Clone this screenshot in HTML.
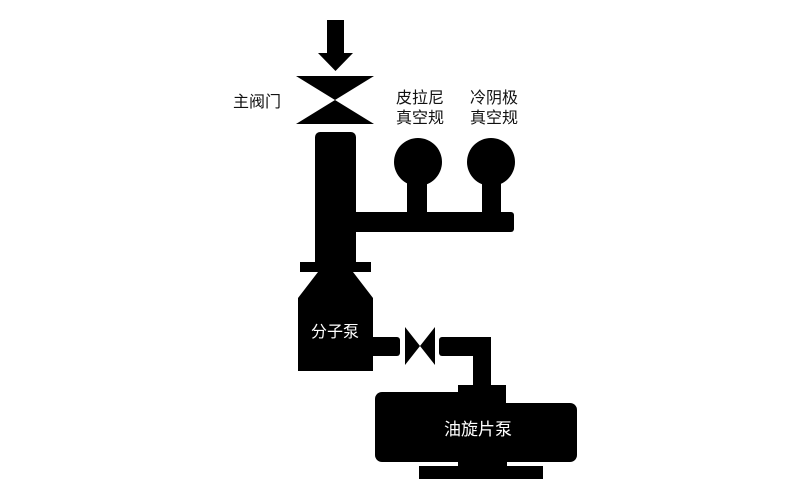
<!DOCTYPE html>
<html><head><meta charset="utf-8"><style>
body{margin:0;background:#fff;}
svg{display:block;}
text{font-family:"Liberation Sans","Noto Sans CJK SC",sans-serif;font-size:16px;}
</style></head><body>
<svg width="800" height="500" viewBox="0 0 800 500">
<rect x="327" y="20" width="17" height="34" fill="#000"/>
<polygon points="318,53 353,53 335.5,71" fill="#000"/>
<polygon points="296,76 374,76 335,100" fill="#000"/>
<polygon points="296,124 374,124 335,100" fill="#000"/>
<text x="257" y="107" text-anchor="middle" fill="#111">主阀门</text>
<text x="420" y="103" text-anchor="middle" fill="#111">皮拉尼</text>
<text x="420" y="123" text-anchor="middle" fill="#111">真空规</text>
<text x="494" y="103" text-anchor="middle" fill="#111">冷阴极</text>
<text x="494" y="123" text-anchor="middle" fill="#111">真空规</text>
<rect x="315" y="132" width="41" height="140" rx="5" fill="#000"/>
<rect x="345" y="212" width="169" height="20" rx="3" fill="#000"/>
<circle cx="418" cy="162" r="24" fill="#000"/>
<rect x="407" y="170" width="20" height="45" fill="#000"/>
<circle cx="491" cy="162" r="24" fill="#000"/>
<rect x="482" y="170" width="19" height="45" fill="#000"/>
<rect x="300" y="262" width="71" height="10" fill="#000"/>
<polygon points="318,272 353,272 373,298 373,371 298,371 298,298" fill="#000"/>
<text x="335" y="337" text-anchor="middle" fill="#fff">分子泵</text>
<rect x="365" y="337" width="35" height="19" rx="3" fill="#000"/>
<polygon points="405,327 435,365 435,327 405,365" fill="#000"/>
<rect x="439" y="337" width="52" height="19" rx="3" fill="#000"/>
<rect x="473" y="337" width="18" height="52" fill="#000"/>
<rect x="458" y="385" width="48" height="22" fill="#000"/>
<rect x="375" y="392" width="100" height="70" rx="7" fill="#000"/>
<rect x="440" y="403" width="137" height="59" rx="7" fill="#000"/>
<rect x="458" y="455" width="49" height="14" fill="#000"/>
<rect x="419" y="466" width="124" height="13" fill="#000"/>
<text x="478" y="435" text-anchor="middle" fill="#fff" style="font-size:17px">油旋片泵</text>
</svg>
</body></html>
